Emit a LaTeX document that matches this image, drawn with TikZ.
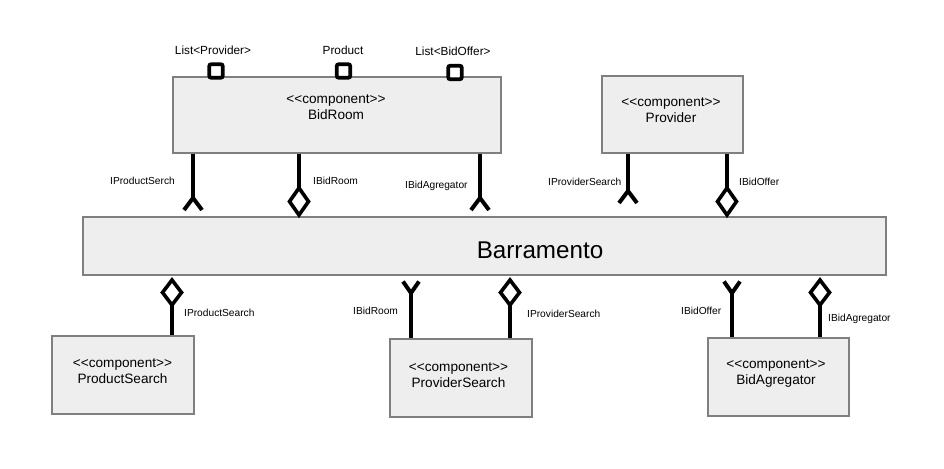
\documentclass[tikz,border=0pt]{standalone}
\usepackage{fontspec}
\setmainfont{Liberation Sans}[Ligatures=ResetAll]
\definecolor{boxfill}{HTML}{EEEEEE}
\definecolor{boxgray}{HTML}{7F7F7F}
\begin{document}
\begin{tikzpicture}[x=1pt,y=-1pt,
  comp/.style={draw=boxgray, fill=boxfill, line width=1.4pt, inner sep=0pt},
  ctext/.style={align=center, inner sep=0pt, font=\fontsize{13.6}{15.8}\selectfont},
  conn/.style={line width=4pt, black},
  lbl/.style={anchor=west, inner sep=0pt, font=\fontsize{10.2}{12}\selectfont},
  plbl/.style={inner sep=0pt, font=\fontsize{11.8}{13}\selectfont},
  portbox/.style={draw=black, fill=white, line width=3.8pt, rounded corners=2pt, minimum size=13.5pt, inner sep=0pt},
  forkdown/.pic={\draw[line width=4pt] (-9,12) -- (0,0) -- (9,12);},
  forkup/.pic={\draw[line width=4pt] (-8,-11.5) -- (0,0) -- (8,-11.5);},
  diadown/.pic={\draw[line width=3.6pt, fill=white, line join=miter] (0,0) -- (9.5,13.5) -- (0,27) -- (-9.5,13.5) -- cycle;},
  diaup/.pic={\draw[line width=3.6pt, fill=white, line join=miter] (0,0) -- (9.5,-12.5) -- (0,-25) -- (-9.5,-12.5) -- cycle;},
]
\useasboundingbox (0,0) rectangle (944,468);

% component boxes
\node[comp, minimum width=328pt, minimum height=76pt] (bidroom) at (337,115) {};
\node[comp, minimum width=141pt, minimum height=77pt] (provider) at (672.5,114.5) {};
\node[comp, minimum width=803pt, minimum height=58pt] (bus) at (484.5,246) {};
\node[comp, minimum width=142pt, minimum height=78pt] (psearch) at (123,375) {};
\node[comp, minimum width=142pt, minimum height=78pt] (provsearch) at (461,378) {};
\node[comp, minimum width=141pt, minimum height=78pt] (bidagr) at (778.5,377) {};

% box texts
\node[ctext] (t1) at (336,107.5) {<{}<component>{}>\\BidRoom};
\node[ctext] (t2) at (671,110.5) {<{}<component>{}>\\Provider};
\node[ctext] (t3) at (122.5,371.5) {<{}<component>{}>\\ProductSearch};
\node[ctext] (t4) at (458.5,375) {<{}<component>{}>\\ProviderSearch};
\node[ctext] (t5) at (776,373.5) {<{}<component>{}>\\BidAgregator};
\node[inner sep=0pt, font=\fontsize{24.2}{27}\selectfont] (t6) at (540,250) {Barramento};

% ports on BidRoom
\node[portbox] (p1) at (216,71) {};
\node[portbox] (p2) at (343.5,71) {};
\node[portbox] (p3) at (455,72.5) {};
\node[plbl] (pl1) at (213,50) {List<Provider>};
\node[plbl] (pl2) at (343,50) {Product};
\node[plbl] (pl3) at (453,51) {List<BidOffer>};

% connectors from upper components
\coordinate (c1) at (193,198);
\coordinate (c2) at (299,188);
\coordinate (c3) at (480,198);
\coordinate (c4) at (628,191);
\coordinate (c5) at (727,188);
\draw[conn] (bidroom.south -| c1) -- (c1);
\pic at (c1) {forkdown};
\draw[conn] (bidroom.south -| c2) -- (c2);
\pic at (c2) {diadown};
\draw[conn] (bidroom.south -| c3) -- (c3);
\pic at (c3) {forkdown};
\draw[conn] (provider.south -| c4) -- (c4);
\pic at (c4) {forkdown};
\draw[conn] (provider.south -| c5) -- (c5);
\pic at (c5) {diadown};

% connectors from lower components
\coordinate (d1) at (172,305);
\coordinate (d2) at (411,293);
\coordinate (d3) at (510,305);
\coordinate (d4) at (732,293);
\coordinate (d5) at (820,305);
\draw[conn] (psearch.north -| d1) -- (d1);
\pic at (d1) {diaup};
\draw[conn] (provsearch.north -| d2) -- (d2);
\pic at (d2) {forkup};
\draw[conn] (provsearch.north -| d3) -- (d3);
\pic at (d3) {diaup};
\draw[conn] (bidagr.north -| d4) -- (d4);
\pic at (d4) {forkup};
\draw[conn] (bidagr.north -| d5) -- (d5);
\pic at (d5) {diaup};

% interface labels
\node[lbl] (l1) at (110,181) {IProductSerch};
\node[lbl] (l2) at (313,181) {IBidRoom};
\node[lbl] (l3) at (405,186) {IBidAgregator};
\node[lbl] (l4) at (548,182) {IProviderSearch};
\node[lbl] (l5) at (739,182) {IBidOffer};
\node[lbl] (l6) at (184,313) {IProductSearch};
\node[lbl] (l7) at (353,311) {IBidRoom};
\node[lbl] (l8) at (527,314) {IProviderSearch};
\node[lbl] (l9) at (681,311) {IBidOffer};
\node[lbl] (l10) at (828,319) {IBidAgregator};
\end{tikzpicture}
\end{document}
